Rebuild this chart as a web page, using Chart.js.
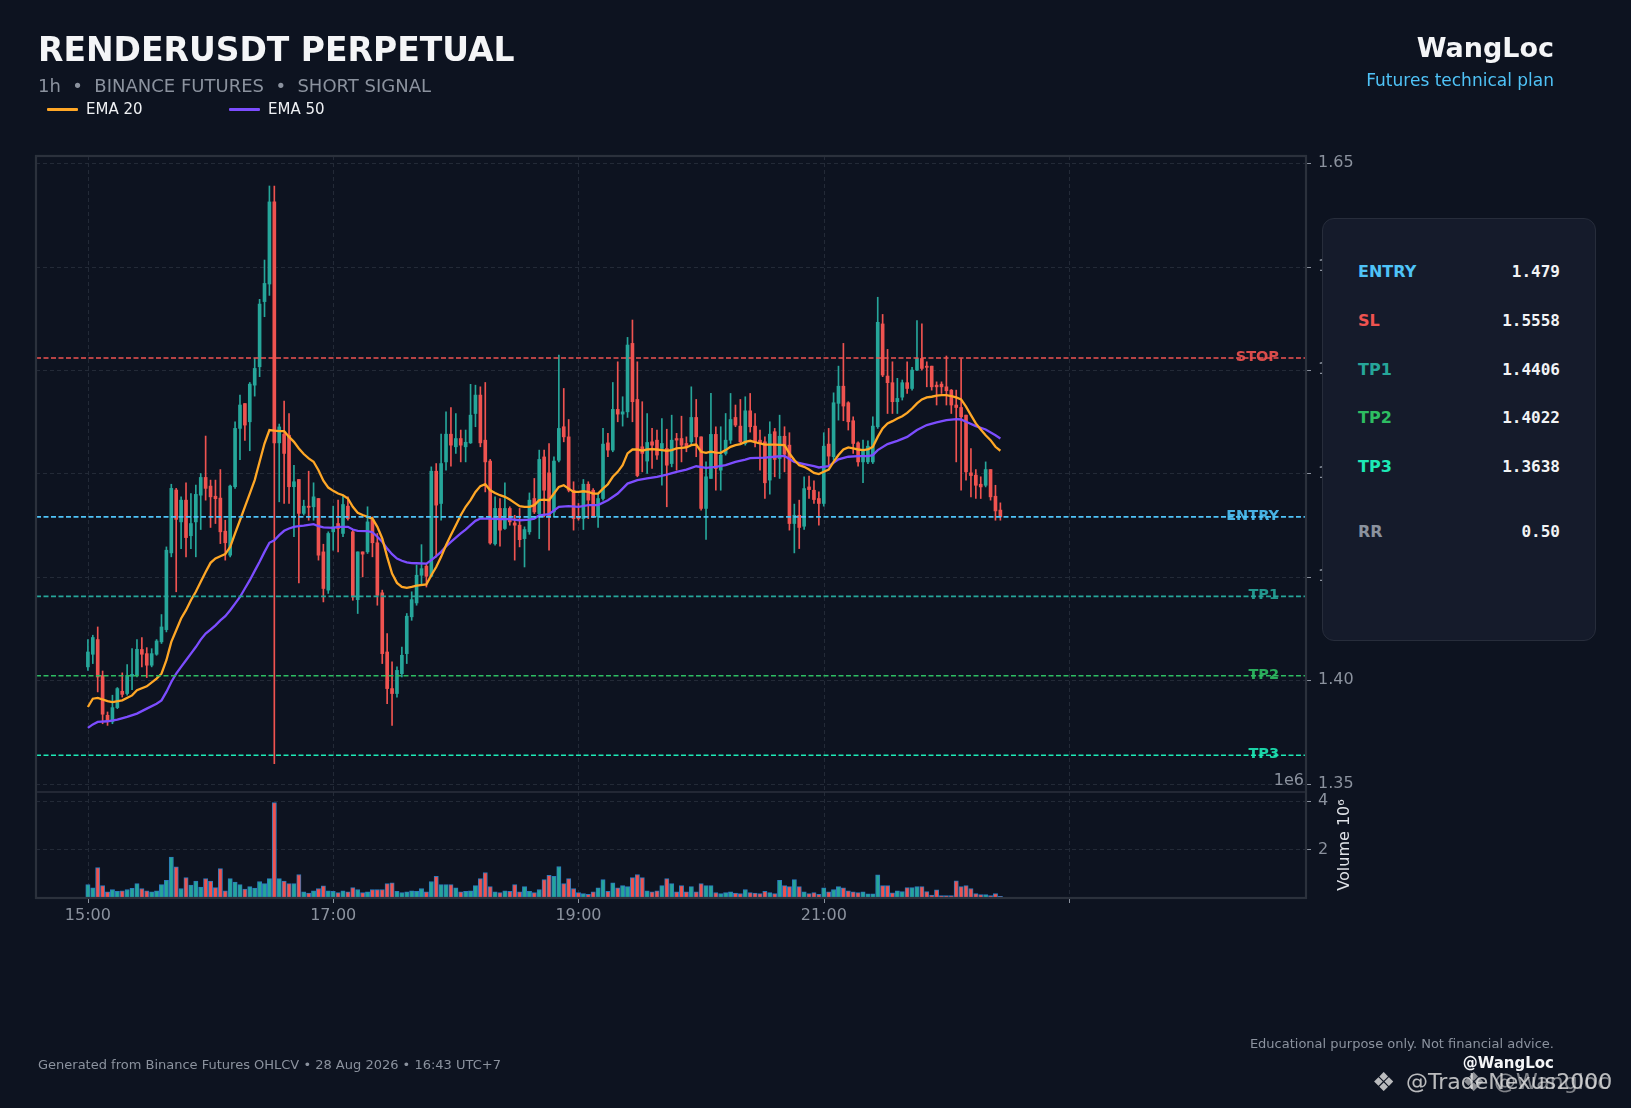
<!DOCTYPE html>
<html><head><meta charset="utf-8">
<script src="https://cdn.jsdelivr.net/npm/chart.js@4.4.1/dist/chart.umd.min.js"></script>
<style>
html,body{margin:0;padding:0;background:#0d1320;width:1631px;height:1108px;overflow:hidden;font-family:'DejaVu Sans',sans-serif;}
#wrap{position:relative;width:1631px;height:1108px;}
canvas{position:absolute;left:0;top:0;}
.t{position:absolute;white-space:pre;line-height:1;transform:translateY(-50%);}
.r{text-align:right;}
#panel{position:absolute;left:1322px;top:218px;width:274px;height:423px;box-sizing:border-box;background:#151b2b;border:1px solid #272d3b;border-radius:12px;}
.sw{position:absolute;height:3px;border-radius:1px;}
</style></head><body>
<div id="wrap">
<canvas id="price" width="1631" height="1108" style="width:1631px;height:1108px"></canvas>
<canvas id="vol" width="1631" height="1108" style="width:1631px;height:1108px"></canvas>

<div class="t" style="left:38px;top:49px;font-size:33px;font-weight:bold;color:#f4f5f7">RENDERUSDT PERPETUAL</div>
<div class="t" style="left:38px;top:86px;font-size:18px;color:#8b929e">1h  •  BINANCE FUTURES  •  SHORT SIGNAL</div>
<div class="sw" style="left:47px;top:108px;width:31px;background:#ffa726"></div>
<div class="t" style="left:86px;top:109px;font-size:15px;color:#eef0f3">EMA 20</div>
<div class="sw" style="left:229px;top:108px;width:31px;background:#7c4dff"></div>
<div class="t" style="left:268px;top:109px;font-size:15px;color:#eef0f3">EMA 50</div>
<div class="t r" style="right:77px;top:47px;font-size:27px;font-weight:bold;color:#f4f5f7">WangLoc</div>
<div class="t r" style="right:77px;top:80px;font-size:17px;color:#4fc3f7">Futures technical plan</div>

<div class="t" style="left:38px;top:1064px;font-size:13px;color:#8b929e">Generated from Binance Futures OHLCV • 28 Aug 2026 • 16:43 UTC+7</div>
<div class="t r" style="right:77px;top:1043px;font-size:13px;color:#8b929e">Educational purpose only. Not financial advice.</div>
<div class="t r" style="right:77px;top:1063px;font-size:15px;font-weight:bold;color:#f4f5f7">@WangLoc</div>
<div class="t" style="left:1372px;top:1082px;font-size:26px;color:rgba(225,225,225,0.82)">❖</div>
<div class="t" style="left:1406px;top:1082px;font-size:22px;color:rgba(225,225,225,0.82)">@TradeNexus2000</div>
<div class="t" style="left:1462px;top:1082px;font-size:26px;color:rgba(225,225,225,0.6)">❖</div>
<div class="t" style="left:1494px;top:1082px;font-size:22px;color:rgba(225,225,225,0.55)">@Wangloc</div>

<div id="panel"></div>
</div>
<script>
// ---------------- DATA ----------------
const X_TICKS = [0, 50, 100, 150, 200];
const X_TICK_LABELS = ['15:00', '17:00', '19:00', '21:00', ''];
const PRICE_TICKS = [1.35, 1.40, 1.45, 1.50, 1.55, 1.60, 1.65];
const VOLUME_TICKS = [2, 4];

const OPEN = [1.4065,1.4126,1.4197,1.4023,1.3831,1.3799,1.3868,1.3947,1.3936,1.4020,
1.4023,1.4149,1.4129,1.4073,1.4126,1.4186,1.4245,1.4616,1.4920,1.4766,
1.4871,1.4699,1.4766,1.4895,1.4981,1.4939,1.4890,1.4881,1.4721,1.4605,
1.4936,1.5218,1.5338,1.5250,1.5427,1.5516,1.5831,1.5916,1.6313,1.5148,
1.5190,1.5185,1.4936,1.4971,1.4807,1.4842,1.4839,1.4879,1.4621,1.4436,
1.4718,1.4758,1.4710,1.4842,1.4718,1.4390,1.4621,1.4621,1.4777,1.4665,
1.4423,1.4137,1.3960,1.3936,1.4032,1.4129,1.4307,1.4374,1.4508,1.4552,
1.4503,1.5011,1.4855,1.5056,1.5190,1.5129,1.5169,1.5129,1.5148,1.5290,
1.5379,1.5161,1.5060,1.4660,1.4831,1.4734,1.4831,1.4761,1.4750,1.4685,
1.4718,1.4879,1.4806,1.5080,1.5003,1.4814,1.5064,1.5226,1.5177,1.4919,
1.4790,1.4782,1.4948,1.4919,1.4790,1.4879,1.5148,1.5113,1.5310,1.5287,
1.5298,1.5629,1.5358,1.5129,1.5060,1.5153,1.5161,1.5121,1.5121,1.5048,
1.5169,1.5169,1.5145,1.5153,1.5271,1.5177,1.4831,1.4976,1.5189,1.5016,
1.5097,1.5161,1.5271,1.5229,1.5145,1.5303,1.5229,1.5161,1.5153,1.4968,
1.5202,1.5072,1.5180,1.5137,1.4758,1.4798,1.4745,1.4935,1.4919,1.4879,
1.4855,1.5142,1.5081,1.5339,1.5422,1.5342,1.5255,1.5148,1.5056,1.5056,
1.5056,1.5226,1.5723,1.5471,1.5439,1.5347,1.5369,1.5439,1.5411,1.5500,
1.5556,1.5519,1.5519,1.5427,1.5432,1.5419,1.5403,1.5331,1.5319,1.5282,
1.5003,1.4992,1.4948,1.4943,1.5019,1.4890,1.4823];

const HIGH = [1.4197,1.4218,1.4258,1.4045,1.3847,1.3928,1.3965,1.4036,1.4076,1.4153,
1.4197,1.4207,1.4158,1.4153,1.4197,1.4318,1.4645,1.4948,1.4928,1.4887,
1.4955,1.4903,1.4944,1.5000,1.5181,1.4968,1.4968,1.5019,1.4774,1.4944,
1.5250,1.5379,1.5338,1.5440,1.5556,1.5842,1.6032,1.6390,1.6390,1.5239,
1.5350,1.5290,1.5040,1.4971,1.4871,1.5011,1.4955,1.4879,1.4658,1.4718,
1.4842,1.4871,1.4895,1.4887,1.4726,1.4621,1.4621,1.4839,1.4790,1.4710,
1.4436,1.4226,1.4089,1.4065,1.4161,1.4323,1.4428,1.4557,1.4656,1.4564,
1.5032,1.5048,1.5190,1.5298,1.5319,1.5290,1.5210,1.5210,1.5431,1.5427,
1.5419,1.5440,1.5068,1.4887,1.4879,1.4955,1.4839,1.4798,1.4831,1.4742,
1.4906,1.4976,1.5113,1.5113,1.5145,1.5080,1.5572,1.5411,1.5261,1.4960,
1.4855,1.4971,1.4960,1.4927,1.4903,1.5218,1.5194,1.5440,1.5540,1.5371,
1.5658,1.5742,1.5540,1.5347,1.5290,1.5218,1.5210,1.5266,1.5214,1.5282,
1.5194,1.5277,1.5177,1.5419,1.5358,1.5177,1.5056,1.5387,1.5226,1.5226,
1.5290,1.5387,1.5331,1.5358,1.5371,1.5387,1.5290,1.5210,1.5177,1.5250,
1.5218,1.5282,1.5226,1.5197,1.4852,1.4871,1.4984,1.4987,1.4964,1.4911,
1.5197,1.5218,1.5390,1.5519,1.5629,1.5347,1.5274,1.5153,1.5161,1.5158,
1.5274,1.5852,1.5769,1.5600,1.5540,1.5460,1.5452,1.5540,1.5513,1.5739,
1.5723,1.5540,1.5519,1.5443,1.5443,1.5568,1.5406,1.5403,1.5556,1.5282,
1.5121,1.5019,1.4984,1.5056,1.5019,1.4943,1.4858];

const LOW = [1.4048,1.4081,1.3944,1.3790,1.3782,1.3790,1.3863,1.3919,1.3928,1.3955,
1.4016,1.4065,1.4013,1.4065,1.4121,1.4178,1.4234,1.4597,1.4428,1.4637,
1.4597,1.4637,1.4597,1.4729,1.4871,1.4739,1.4758,1.4661,1.4581,1.4597,
1.4928,1.5067,1.5160,1.5110,1.5374,1.5468,1.5758,1.5861,1.3597,1.4863,
1.4855,1.4855,1.4694,1.4471,1.4799,1.4774,1.4774,1.4581,1.4379,1.4420,
1.4629,1.4621,1.4694,1.4774,1.4387,1.4323,1.4500,1.4613,1.4597,1.4363,
1.4081,1.3887,1.3782,1.3919,1.4016,1.4081,1.4290,1.4363,1.4467,1.4451,
1.4500,1.4596,1.4774,1.5016,1.5035,1.5097,1.5056,1.5056,1.5145,1.5226,
1.5129,1.4911,1.4658,1.4653,1.4648,1.4729,1.4750,1.4581,1.4645,1.4548,
1.4706,1.4806,1.4685,1.4790,1.4629,1.4790,1.5056,1.5153,1.4911,1.4726,
1.4774,1.4729,1.4782,1.4787,1.4739,1.4871,1.5081,1.5105,1.5250,1.5229,
1.5271,1.5250,1.4984,1.5008,1.5000,1.5024,1.5068,1.4943,1.4839,1.5032,
1.5016,1.5056,1.5105,1.5137,1.5081,1.4823,1.4681,1.4976,1.4919,1.4919,
1.5089,1.5145,1.5226,1.5145,1.5137,1.5200,1.5129,1.5016,1.4879,1.4900,
1.4984,1.4976,1.5008,1.4726,1.4616,1.4637,1.4729,1.4879,1.4855,1.4750,
1.4842,1.5032,1.5064,1.5258,1.5255,1.5210,1.5097,1.5035,1.4955,1.5048,
1.5048,1.5218,1.5468,1.5290,1.5290,1.5290,1.5355,1.5387,1.5403,1.5497,
1.5500,1.5419,1.5403,1.5331,1.5387,1.5331,1.5290,1.5056,1.4919,1.4968,
1.4887,1.4879,1.4879,1.4935,1.4871,1.4774,1.4774];

const CLOSE = [1.4137,1.4207,1.4016,1.3836,1.3803,1.3868,1.3960,1.3932,1.4024,1.4029,
1.4150,1.4126,1.4073,1.4129,1.4190,1.4258,1.4629,1.4928,1.4778,1.4871,
1.4690,1.4758,1.4899,1.4981,1.4928,1.4887,1.4878,1.4718,1.4665,1.4939,
1.5218,1.5331,1.5234,1.5432,1.5508,1.5819,1.5919,1.6313,1.5148,1.5225,
1.5097,1.4936,1.4960,1.4807,1.4842,1.4836,1.4887,1.4605,1.4444,1.4710,
1.4742,1.4734,1.4850,1.4782,1.4403,1.4621,1.4610,1.4766,1.4665,1.4411,
1.4129,1.3960,1.3936,1.4048,1.4121,1.4310,1.4390,1.4508,1.4540,1.4503,
1.5011,1.4847,1.5048,1.5190,1.5137,1.5169,1.5137,1.5151,1.5282,1.5379,
1.5148,1.5056,1.4664,1.4831,1.4726,1.4831,1.4766,1.4750,1.4680,1.4729,
1.4871,1.4814,1.5068,1.4919,1.4790,1.5060,1.5218,1.5177,1.4919,1.4782,
1.4782,1.4948,1.4871,1.4790,1.4879,1.5142,1.5113,1.5310,1.5287,1.5298,
1.5621,1.5347,1.4990,1.5097,1.5150,1.5137,1.5089,1.5145,1.5040,1.5161,
1.5161,1.5137,1.5129,1.5271,1.5177,1.4831,1.4984,1.5189,1.5024,1.5089,
1.5161,1.5261,1.5234,1.5153,1.5303,1.5226,1.5153,1.5145,1.4955,1.5190,
1.5068,1.5180,1.5093,1.4758,1.4798,1.4739,1.4927,1.4922,1.4874,1.4855,
1.5132,1.5084,1.5342,1.5422,1.5326,1.5250,1.5145,1.5056,1.5116,1.5132,
1.5229,1.5731,1.5476,1.5439,1.5347,1.5363,1.5439,1.5411,1.5500,1.5556,
1.5508,1.5513,1.5419,1.5419,1.5419,1.5400,1.5331,1.5319,1.5274,1.5008,
1.4990,1.4943,1.4935,1.5019,1.4887,1.4819,1.4790];

// volume in millions
const VOLUME_M = [0.55,0.42,1.25,0.51,0.25,0.35,0.28,0.30,0.35,0.40,
0.59,0.39,0.30,0.25,0.30,0.55,0.73,1.69,1.28,0.39,
0.84,0.53,0.70,0.45,0.80,0.70,0.43,1.21,0.30,0.80,
0.66,0.55,0.37,0.47,0.41,0.68,0.59,0.80,3.93,0.80,
0.70,0.59,0.59,0.97,0.25,0.20,0.30,0.39,0.50,0.30,
0.28,0.22,0.30,0.25,0.43,0.35,0.22,0.25,0.35,0.35,
0.35,0.59,0.63,0.28,0.22,0.25,0.30,0.28,0.39,0.25,
0.68,0.89,0.55,0.55,0.55,0.42,0.25,0.28,0.30,0.51,
0.80,1.05,0.47,0.25,0.22,0.30,0.28,0.55,0.25,0.47,
0.28,0.22,0.35,0.76,0.93,0.89,1.30,0.59,0.80,0.39,
0.22,0.18,0.15,0.25,0.42,0.76,0.28,0.63,0.42,0.51,
0.47,0.84,0.97,0.84,0.30,0.25,0.30,0.51,0.80,0.59,
0.25,0.51,0.25,0.47,0.25,0.59,0.51,0.51,0.22,0.18,
0.22,0.25,0.20,0.18,0.35,0.22,0.20,0.18,0.28,0.22,
0.18,0.73,0.51,0.47,0.76,0.47,0.25,0.18,0.22,0.15,
0.42,0.25,0.35,0.47,0.42,0.30,0.25,0.22,0.25,0.17,
0.17,0.96,0.51,0.51,0.21,0.30,0.26,0.43,0.43,0.47,
0.47,0.26,0.12,0.34,0.10,0.10,0.10,0.71,0.47,0.51,
0.39,0.18,0.14,0.14,0.10,0.18,0.07];

const EMA20 = [[0,1.3871],[1,1.3911],[2,1.3915],[4,1.3899],[5,1.3895],[7,1.3903],[9,1.3927],[10,1.3952],[12,1.3971],[14,1.4008],[15,1.4032],[16,1.4097],[17,1.4186],[18,1.4242],[19,1.4299],[20,1.4339],[21,1.4387],[22,1.4428],[23,1.4476],[24,1.4524],[25,1.4568],[26,1.4589],[27,1.4600],[28,1.4610],[29,1.4645],[30,1.4710],[31,1.4774],[32,1.4839],[33,1.4903],[34,1.4968],[35,1.5057],[36,1.5145],[37,1.5210],[38,1.5207],[39,1.5205],[40,1.5205],[41,1.5177],[42,1.5153],[43,1.5121],[44,1.5094],[45,1.5073],[46,1.5057],[47,1.5016],[48,1.4965],[49,1.4932],[50,1.4916],[51,1.4903],[52,1.4895],[53,1.4879],[54,1.4839],[55,1.4810],[56,1.4799],[57,1.4790],[58,1.4782],[59,1.4742],[60,1.4686],[61,1.4597],[62,1.4516],[63,1.4471],[64,1.4452],[65,1.4447],[66,1.4452],[67,1.4458],[69,1.4464],[70,1.4508],[71,1.4548],[72,1.4597],[73,1.4653],[74,1.4702],[75,1.4750],[76,1.4798],[77,1.4839],[78,1.4871],[79,1.4911],[80,1.4939],[81,1.4948],[82,1.4919],[83,1.4906],[84,1.4895],[85,1.4887],[86,1.4874],[87,1.4858],[88,1.4842],[89,1.4839],[90,1.4839],[91,1.4847],[92,1.4871],[93,1.4874],[94,1.4871],[95,1.4903],[96,1.4935],[97,1.4943],[98,1.4927],[99,1.4911],[100,1.4911],[101,1.4914],[102,1.4911],[103,1.4903],[104,1.4903],[105,1.4927],[106,1.4948],[107,1.4984],[108,1.5008],[109,1.5040],[110,1.5097],[111,1.5116],[112,1.5116],[113,1.5110],[114,1.5116],[115,1.5118],[116,1.5116],[117,1.5113],[118,1.5110],[119,1.5113],[120,1.5121],[121,1.5124],[122,1.5126],[123,1.5137],[124,1.5140],[125,1.5105],[126,1.5100],[127,1.5106],[128,1.5101],[129,1.5100],[130,1.5113],[131,1.5129],[132,1.5137],[133,1.5142],[134,1.5153],[135,1.5158],[137,1.5145],[138,1.5140],[140,1.5140],[142,1.5137],[143,1.5097],[144,1.5065],[145,1.5040],[146,1.5032],[147,1.5019],[148,1.5003],[149,1.4997],[150,1.5008],[151,1.5019],[152,1.5056],[153,1.5089],[154,1.5116],[155,1.5126],[156,1.5121],[157,1.5116],[158,1.5113],[159,1.5116],[160,1.5129],[161,1.5177],[162,1.5218],[163,1.5242],[164,1.5253],[165,1.5266],[166,1.5277],[167,1.5293],[168,1.5314],[169,1.5339],[170,1.5358],[171,1.5368],[172,1.5371],[173,1.5376],[174,1.5379],[175,1.5379],[176,1.5374],[177,1.5368],[178,1.5358],[179,1.5323],[180,1.5282],[181,1.5242],[182,1.5213],[183,1.5185],[184,1.5161],[185,1.5129],[186,1.5110]];

const EMA50 = [[0,1.3770],[1,1.3787],[2,1.3799],[4,1.3802],[6,1.3810],[8,1.3823],[10,1.3839],[12,1.3863],[14,1.3887],[15,1.3903],[16,1.3944],[17,1.3992],[18,1.4032],[19,1.4065],[20,1.4097],[21,1.4129],[22,1.4161],[23,1.4197],[24,1.4226],[25,1.4245],[26,1.4266],[27,1.4290],[28,1.4310],[29,1.4339],[30,1.4371],[31,1.4403],[32,1.4444],[33,1.4484],[34,1.4529],[35,1.4573],[36,1.4621],[37,1.4665],[38,1.4677],[39,1.4702],[40,1.4723],[41,1.4734],[42,1.4742],[43,1.4745],[44,1.4748],[45,1.4752],[46,1.4755],[47,1.4745],[48,1.4739],[50,1.4737],[51,1.4742],[53,1.4742],[54,1.4729],[55,1.4723],[57,1.4721],[58,1.4716],[59,1.4694],[60,1.4670],[61,1.4637],[62,1.4610],[63,1.4589],[64,1.4578],[65,1.4570],[66,1.4567],[67,1.4566],[69,1.4564],[70,1.4581],[71,1.4600],[72,1.4621],[73,1.4648],[74,1.4669],[75,1.4690],[76,1.4710],[77,1.4729],[78,1.4750],[79,1.4771],[80,1.4782],[82,1.4782],[84,1.4779],[86,1.4779],[88,1.4774],[90,1.4777],[91,1.4782],[92,1.4798],[94,1.4803],[96,1.4839],[98,1.4842],[100,1.4839],[102,1.4847],[104,1.4847],[106,1.4871],[108,1.4903],[110,1.4951],[112,1.4968],[114,1.4976],[116,1.4984],[118,1.4995],[120,1.5008],[122,1.5019],[124,1.5035],[126,1.5027],[128,1.5032],[130,1.5040],[132,1.5056],[134,1.5067],[135,1.5074],[138,1.5077],[140,1.5081],[142,1.5085],[144,1.5056],[146,1.5045],[148,1.5035],[149,1.5029],[151,1.5035],[153,1.5068],[155,1.5081],[157,1.5084],[159,1.5084],[160,1.5089],[161,1.5113],[163,1.5142],[165,1.5158],[167,1.5177],[169,1.5210],[171,1.5234],[173,1.5247],[175,1.5258],[177,1.5263],[178,1.5261],[179,1.5250],[181,1.5229],[183,1.5213],[185,1.5185],[186,1.5169]];

const LEVEL_NAMES = ['STOP', 'ENTRY', 'TP1', 'TP2', 'TP3'];
const LEVEL_VALUES = [1.5558, 1.479, 1.4406, 1.4022, 1.3638];
const LEVEL_COLORS = ['#ef5350', '#4fc3f7', '#26a69a', '#2ebd62', '#1de9b6'];

const PANEL_LABELS = ['ENTRY', 'SL', 'TP1', 'TP2', 'TP3', 'RR'];
const PANEL_VALUES = ['1.479', '1.5558', '1.4406', '1.4022', '1.3638', '0.50'];
const PANEL_COLORS = ['#4fc3f7', '#ef5350', '#26a69a', '#2ebd62', '#1de9b6', '#8b929e'];

// ---------------- STYLE / LAYOUT ----------------
const X_MIN = -10.58, X_MAX = 248.3;
const UP = '#26a69a', DOWN = '#ef5350';
const GRID = '#232a37', TICKC = '#8b929e', FRAME = '#2b313c';
const N = Math.min(OPEN.length, HIGH.length, LOW.length, CLOSE.length, VOLUME_M.length);
const dirColor = i => (CLOSE[i] >= OPEN[i] ? UP : DOWN);
const idx = [...Array(N).keys()];

Chart.defaults.font.family = "'DejaVu Sans', sans-serif";

function gridPlugin(id, yTicks, xTickMarks) {
  return {
    id,
    beforeDatasetsDraw(chart) {
      const { ctx, chartArea: a } = chart;
      const x = chart.scales.x, y = chart.scales.y;
      ctx.save();
      ctx.strokeStyle = GRID; ctx.lineWidth = 1; ctx.setLineDash([4, 3]);
      X_TICKS.forEach(v => {
        const px = Math.round(x.getPixelForValue(v)) + 0.5;
        if (px < a.left || px > a.right) return;
        ctx.beginPath(); ctx.moveTo(px, a.top); ctx.lineTo(px, a.bottom); ctx.stroke();
      });
      yTicks.forEach(v => {
        const py = Math.round(y.getPixelForValue(v)) + 0.5;
        ctx.beginPath(); ctx.moveTo(a.left, py); ctx.lineTo(a.right, py); ctx.stroke();
      });
      ctx.setLineDash([]);
      ctx.strokeStyle = TICKC; ctx.lineWidth = 1;
      yTicks.forEach(v => {
        const py = Math.round(y.getPixelForValue(v)) + 0.5;
        ctx.beginPath(); ctx.moveTo(a.right, py); ctx.lineTo(a.right + 5, py); ctx.stroke();
      });
      if (xTickMarks) {
        X_TICKS.forEach(v => {
          const px = Math.round(x.getPixelForValue(v)) + 0.5;
          ctx.beginPath(); ctx.moveTo(px, a.bottom); ctx.lineTo(px, a.bottom + 5); ctx.stroke();
        });
      }
      ctx.restore();
    }
  };
}

const levelLabelPlugin = {
  id: 'levelLabels',
  beforeDatasetsDraw(chart) {
    const { ctx, chartArea: a } = chart;
    const y = chart.scales.y;
    ctx.save();
    ctx.font = "bold 14.5px 'DejaVu Sans'";
    ctx.textAlign = 'right'; ctx.textBaseline = 'middle';
    ctx.globalAlpha = 0.9;
    LEVEL_NAMES.forEach((n, k) => {
      ctx.fillStyle = LEVEL_COLORS[k];
      ctx.fillText(n, a.right - 27, y.getPixelForValue(LEVEL_VALUES[k]) - 1);
    });
    ctx.restore();
  }
};

const tickFont = { family: "'DejaVu Sans'", size: 16 };

const priceChart = new Chart(document.getElementById('price'), {
  type: 'bar',
  data: {
    datasets: [
      ...LEVEL_NAMES.map((n, k) => ({
        type: 'line', label: n,
        data: [{ x: X_MIN, y: LEVEL_VALUES[k] }, { x: X_MAX, y: LEVEL_VALUES[k] }],
        borderColor: LEVEL_COLORS[k], borderWidth: 1.6, borderDash: [5, 2.5],
        pointRadius: 0, order: 0
      })),
      { type: 'line', label: 'EMA 20', data: EMA20.map(([x, y]) => ({ x, y })),
        borderColor: '#ffa726', borderWidth: 2.3, pointRadius: 0, tension: 0, order: 1 },
      { type: 'line', label: 'EMA 50', data: EMA50.map(([x, y]) => ({ x, y })),
        borderColor: '#7c4dff', borderWidth: 2.3, pointRadius: 0, tension: 0, order: 1 },
      { type: 'bar', label: 'body', data: idx.map(i => ({ x: i, y: [OPEN[i], CLOSE[i]] })),
        backgroundColor: idx.map(dirColor), barThickness: 3, minBarLength: 1,
        grouped: false, order: 2 },
      { type: 'bar', label: 'wick', data: idx.map(i => ({ x: i, y: [LOW[i], HIGH[i]] })),
        backgroundColor: idx.map(dirColor), barThickness: 1, grouped: false, order: 3 }
    ]
  },
  options: {
    responsive: false, animation: false, devicePixelRatio: 1,
    layout: { padding: { left: 36, top: 156, right: 0, bottom: 316 } },
    plugins: { legend: { display: false }, tooltip: { enabled: false } },
    scales: {
      x: { type: 'linear', min: X_MIN, max: X_MAX, offset: false, display: false, bounds: 'data' },
      y: {
        position: 'right', min: 1.346, max: 1.6535, bounds: 'data',
        afterFit(s) { s.width = 325; },
        afterBuildTicks(s) { s.ticks = PRICE_TICKS.map(v => ({ value: v })); },
        ticks: { callback: v => Number(v).toFixed(2), color: TICKC, font: tickFont, padding: 12, autoSkip: false },
        grid: { display: false, drawTicks: false }, border: { display: false }
      }
    }
  },
  plugins: [gridPlugin('g1', PRICE_TICKS, false), levelLabelPlugin]
});

const volumeDecor = {
  id: 'volDecor',
  afterDraw(chart) {
    const { ctx, chartArea: a } = chart;
    const top = priceChart.chartArea.top;
    ctx.save();
    ctx.strokeStyle = FRAME;
    ctx.lineWidth = 1.5;
    ctx.beginPath(); ctx.moveTo(a.left, a.top); ctx.lineTo(a.right, a.top); ctx.stroke();
    ctx.lineWidth = 2.2;
    ctx.strokeRect(a.left, top, a.right - a.left, a.bottom - top);
    ctx.fillStyle = TICKC;
    ctx.font = "16px 'DejaVu Sans'";
    ctx.textAlign = 'right'; ctx.textBaseline = 'middle';
    ctx.fillText('1e6', a.right - 2, a.top - 11);
    ctx.translate(a.right + 39, a.top + 53);
    ctx.rotate(-Math.PI / 2);
    ctx.textAlign = 'center';
    ctx.fillStyle = '#dfe2e7';
    ctx.fillText('Volume 10⁶', 0, 0);
    ctx.restore();
  }
};

new Chart(document.getElementById('vol'), {
  type: 'bar',
  data: {
    datasets: [{
      label: 'Volume', data: idx.map(i => ({ x: i, y: VOLUME_M[i] })),
      backgroundColor: idx.map(dirColor), borderColor: '#2b7bbd', borderWidth: 1,
      barThickness: 4.3, grouped: false
    }]
  },
  options: {
    responsive: false, animation: false, devicePixelRatio: 1,
    layout: { padding: { left: 36, top: 792, right: 0, bottom: 170 } },
    plugins: { legend: { display: false }, tooltip: { enabled: false } },
    scales: {
      x: {
        type: 'linear', min: X_MIN, max: X_MAX, offset: false, bounds: 'data',
        afterFit(s) { s.height = 40; },
        afterBuildTicks(s) { s.ticks = X_TICKS.map(v => ({ value: v })); },
        ticks: { callback: v => X_TICK_LABELS[X_TICKS.indexOf(v)] ?? '', color: TICKC, font: tickFont,
          padding: 8, autoSkip: false, maxRotation: 0 },
        grid: { display: false, drawTicks: false }, border: { display: false }
      },
      y: {
        position: 'right', min: 0, max: 4.37, bounds: 'data',
        afterFit(s) { s.width = 325; },
        afterBuildTicks(s) { s.ticks = VOLUME_TICKS.map(v => ({ value: v })); },
        ticks: { callback: v => String(v), color: TICKC, font: tickFont, padding: 12, autoSkip: false },
        grid: { display: false, drawTicks: false }, border: { display: false }
      }
    }
  },
  plugins: [gridPlugin('g2', VOLUME_TICKS, true), volumeDecor]
});

// info panel
const ROW_Y = [53, 102, 151, 199, 248, 313];
const panel = document.getElementById('panel');
PANEL_LABELS.forEach((lab, k) => {
  const l = document.createElement('div');
  l.className = 't';
  l.style.cssText = `left:35px;top:${ROW_Y[k]}px;font-size:16px;font-weight:bold;color:${PANEL_COLORS[k]}`;
  l.textContent = lab;
  panel.appendChild(l);
  const v = document.createElement('div');
  v.className = 't r';
  v.style.cssText = `right:35px;top:${ROW_Y[k]}px;font-size:16px;font-weight:bold;color:#f2f3f5;font-family:'DejaVu Sans Mono',monospace`;
  v.textContent = PANEL_VALUES[k];
  panel.appendChild(v);
});
</script>
</body></html>
